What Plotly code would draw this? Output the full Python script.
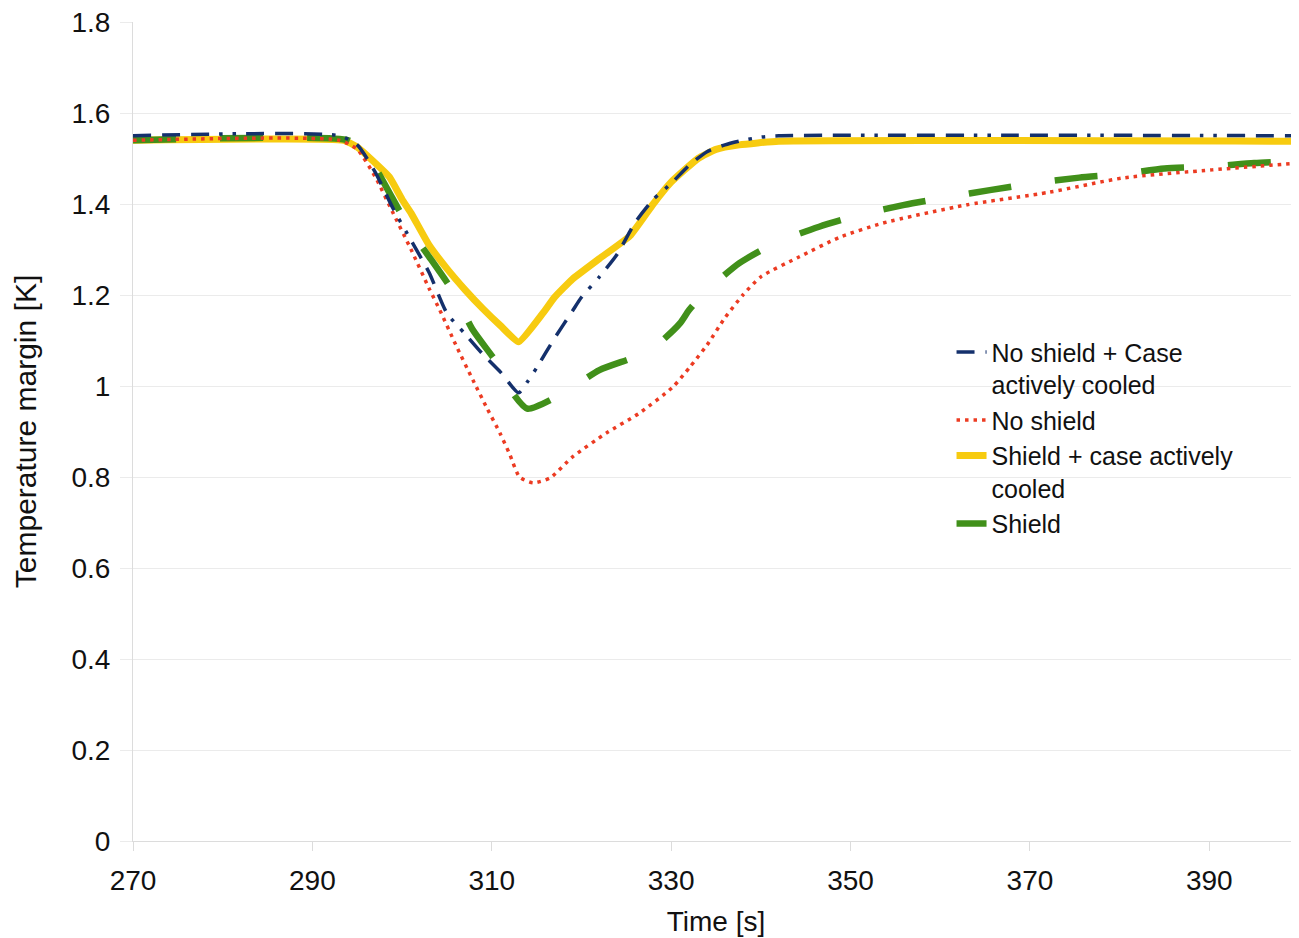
import plotly.graph_objects as go

# ---- data ----
x_blue = [270, 293, 295, 297, 299, 301, 303, 305, 307, 309, 311, 313, 314, 315, 317, 319, 320, 322, 324, 326, 328, 330, 332, 334, 336, 338, 340, 342, 400]
y_blue = [1.55, 1.55, 1.53, 1.47, 1.39, 1.32, 1.25, 1.16, 1.115, 1.07, 1.03, 0.985, 1.01, 1.04, 1.105, 1.165, 1.195, 1.24, 1.29, 1.36, 1.41, 1.445, 1.485, 1.515, 1.53, 1.54, 1.547, 1.55, 1.55]

x_red = [270, 293, 295, 297, 299, 301, 303, 304.2, 306, 307.9, 309.5, 310.9, 312, 313.1, 314.6, 316.5, 319, 322.8, 326.5, 330.2, 332.1, 334, 336, 338, 340, 344.3, 348.8, 353.6, 362.9, 372.2, 380.3, 390.3, 400]
y_red = [1.54, 1.54, 1.52, 1.46, 1.38, 1.30, 1.215, 1.167, 1.09, 1.013, 0.95, 0.897, 0.85, 0.80, 0.787, 0.798, 0.844, 0.897, 0.941, 0.998, 1.042, 1.09, 1.15, 1.20, 1.24, 1.284, 1.327, 1.358, 1.398, 1.426, 1.457, 1.475, 1.49]

x_yellow = [270, 293.5, 295, 297, 298.6, 300, 301, 303, 305, 307, 309, 311, 313, 315.7, 317, 319, 322, 325.4, 328, 330, 333, 335, 337.6, 342, 400]
y_yellow = [1.54, 1.54, 1.525, 1.49, 1.459, 1.41, 1.38, 1.31, 1.258, 1.212, 1.17, 1.132, 1.097, 1.16, 1.195, 1.235, 1.28, 1.33, 1.40, 1.448, 1.50, 1.52, 1.53, 1.538, 1.538]

x_green = [270, 294, 295.5, 297, 299, 301, 302.8, 305.6, 307.9, 310.6, 312.5, 314, 317.6, 322, 326.5, 329, 331, 332, 334, 337.6, 341.8, 346.5, 351, 356, 360.8, 365.7, 370.5, 375.5, 380.3, 385, 390, 395, 400]
y_green = [1.54, 1.54, 1.52, 1.48, 1.41, 1.34, 1.29, 1.21, 1.123, 1.05, 0.98, 0.95, 0.98, 1.035, 1.068, 1.10, 1.138, 1.167, 1.21, 1.27, 1.316, 1.35, 1.376, 1.398, 1.415, 1.431, 1.446, 1.458, 1.466, 1.478, 1.482, 1.49, 1.495]

x_ticks = [270, 290, 310, 330, 350, 370, 390]
y_ticks = [0, 0.2, 0.4, 0.6, 0.8, 1, 1.2, 1.4, 1.6, 1.8]
y_tick_text = ["0", "0.2", "0.4", "0.6", "0.8", "1", "1.2", "1.4", "1.6", "1.8"]

FONT = "Liberation Sans, Arial, sans-serif"
SMOOTH = 0.6

fig = go.Figure()
fig.add_trace(go.Scatter(x=x_yellow, y=y_yellow, mode="lines",
                         name="Shield + case actively<br>cooled", legendrank=3,
                         line=dict(color="#f7cb10", width=7, shape="spline", smoothing=0.4)))
fig.add_trace(go.Scatter(x=x_green, y=y_green, mode="lines",
                         name="Shield", legendrank=4,
                         line=dict(color="#41901a", width=6.5, dash="43px,44px",
                                   shape="spline", smoothing=SMOOTH)))
fig.add_trace(go.Scatter(x=x_red, y=y_red, mode="lines",
                         name="No shield", legendrank=2,
                         line=dict(color="#ec3b22", width=3.5, dash="3.5px,5px",
                                   shape="spline", smoothing=SMOOTH)))
fig.add_trace(go.Scatter(x=x_blue, y=y_blue, mode="lines",
                         name="No shield + Case<br>actively cooled", legendrank=1,
                         line=dict(color="#14306c", width=3.5,
                                   dash="18px,11px,18px,11px,18px,10px,3.5px,10px,3.5px,10px",
                                   shape="spline", smoothing=SMOOTH)))

# the page body adds an 8px offset, so the figure is sized to fill the rest
fig.update_layout(
    width=1291, height=930,
    margin=dict(l=125, r=0, t=14, b=97),
    paper_bgcolor="white", plot_bgcolor="white",
    font=dict(family=FONT, size=28, color="#111111"),
    showlegend=True,
    legend=dict(x=0.702, y=0.625, xanchor="left", yanchor="top",
                bgcolor="rgba(0,0,0,0)", valign="top",
                font=dict(family=FONT, size=25, color="#111111"),
                tracegroupgap=0, itemwidth=30),
)
fig.update_xaxes(
    range=[270, 400], tickvals=x_ticks,
    showgrid=False, zeroline=False, automargin=False,
    showline=True, linecolor="#dcdcdc", linewidth=1,
    ticks="outside", ticklen=9, tickcolor="#dcdcdc",
    ticklabelstandoff=5, ticklabeloverflow="allow",
    title=dict(text="Time [s]", standoff=16, font=dict(size=28)),
    tickfont=dict(size=28),
)
fig.update_yaxes(
    range=[0, 1.8], tickvals=y_ticks, ticktext=y_tick_text,
    showgrid=True, gridcolor="#ebebeb", gridwidth=1,
    zeroline=False, automargin=False,
    showline=True, linecolor="#dcdcdc", linewidth=1,
    ticks="outside", ticklen=12, tickcolor="#ebebeb",
    ticklabelstandoff=4, ticklabeloverflow="allow",
    title=dict(text="Temperature margin [K]", standoff=25, font=dict(size=30)),
    tickfont=dict(size=28),
)

fig.write_html("out.html")
